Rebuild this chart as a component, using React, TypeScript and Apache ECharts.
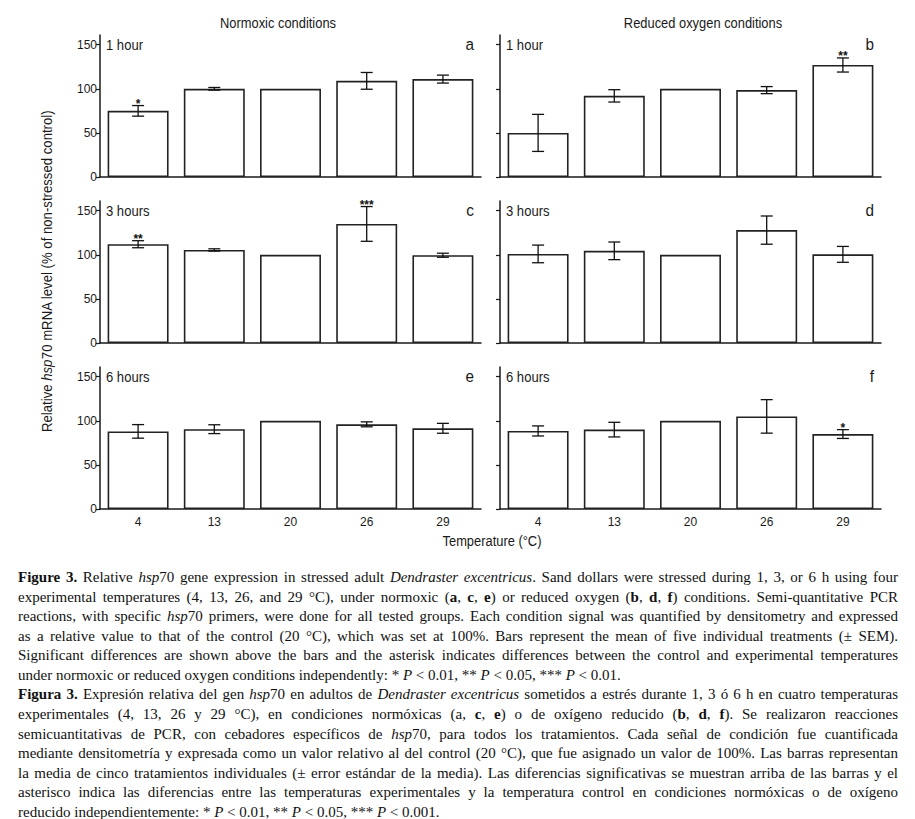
import React, { useEffect, useRef } from 'react';
import * as echarts from 'echarts';

// ---------- data ----------
const temperatures = ['4', '13', '20', '26', '29'];
const yTickValues = [0, 50, 100, 150];
const columnTitles = ['Normoxic conditions', 'Reduced oxygen conditions'];
const panelLetters = ['a', 'b', 'c', 'd', 'e', 'f'];
const panelTimes = ['1 hour', '1 hour', '3 hours', '3 hours', '6 hours', '6 hours'];

const meanA = [75, 100, 100, 109, 111];
const semA = [6, 1.5, 0, 9.5, 4.5];
const sigA = ['*', '', '', '', ''];
const meanB = [50, 92, 100, 98.5, 127];
const semB = [21, 7, 0, 4, 8];
const sigB = ['', '', '', '', '**'];
const meanC = [112, 105.5, 100, 135, 99.5];
const semC = [4, 1.3, 0, 19.7, 2.3];
const sigC = ['**', '', '', '***', ''];
const meanD = [101, 104.5, 100, 128, 100.5];
const semD = [10, 10, 0, 16, 9];
const sigD = ['', '', '', '', ''];
const meanE = [88, 90.5, 100, 96, 91.5];
const semE = [7.7, 5, 0, 2.8, 5.6];
const sigE = ['', '', '', '', ''];
const meanF = [88.5, 90, 100, 105, 85];
const semF = [5.7, 8.3, 0, 19, 5];
const sigF = ['', '', '', '', '*'];

const yTitleParts = ['Relative ', 'hsp', '70 mRNA level (% of non-stressed control)'];
const xTitle = 'Temperature (°C)';

// ^ toggles bold, ~ toggles italic; last line of each paragraph is not justified
const captionEnglish = [
  '^Figure 3.^ Relative ~hsp~70 gene expression in stressed adult ~Dendraster excentricus~. Sand dollars were stressed during 1, 3, or 6 h using four',
  'experimental temperatures (4, 13, 26, and 29 °C), under normoxic (^a^, ^c^, ^e^) or reduced oxygen (^b^, ^d^, ^f^) conditions. Semi-quantitative PCR',
  'reactions, with specific ~hsp~70 primers, were done for all tested groups. Each condition signal was quantified by densitometry and expressed',
  'as a relative value to that of the control (20 °C), which was set at 100%. Bars represent the mean of five individual treatments (± SEM).',
  'Significant differences are shown above the bars and the asterisk indicates differences between the control and experimental temperatures',
  'under normoxic or reduced oxygen conditions independently: * ~P~ < 0.01, ** ~P~ < 0.05, *** ~P~ < 0.01.',
];
const captionSpanish = [
  '^Figura 3.^ Expresión relativa del gen ~hsp~70 en adultos de ~Dendraster excentricus~ sometidos a estrés durante 1, 3 ó 6 h en cuatro temperaturas',
  'experimentales (4, 13, 26 y 29 °C), en condiciones normóxicas (a, ^c^, ^e^) o de oxígeno reducido (^b^, ^d^, ^f^). Se realizaron reacciones',
  'semicuantitativas de PCR, con cebadores específicos de ~hsp~70, para todos los tratamientos. Cada señal de condición fue cuantificada',
  'mediante densitometría y expresada como un valor relativo al del control (20 °C), que fue asignado un valor de 100%. Las barras representan',
  'la media de cinco tratamientos individuales (± error estándar de la media). Las diferencias significativas se muestran arriba de las barras y el',
  'asterisco indica las diferencias entre las temperaturas experimentales y la temperatura control en condiciones normóxicas o de oxígeno',
  'reducido independientemente: * ~P~ < 0.01, ** ~P~ < 0.05, *** ~P~ < 0.001.',
];

const panelMeans = [meanA, meanB, meanC, meanD, meanE, meanF];
const panelSems = [semA, semB, semC, semD, semE, semF];
const panelSigs = [sigA, sigB, sigC, sigD, sigE, sigF];

// ---------- layout ----------
const W = 915;
const H = 819;
const colLeft = [100, 500];
const gridW = 381;
const rowTop = [35, 201, 367];
const gridH = 142;
const yMax = 161;
const SANS = '"Liberation Sans", Arial, sans-serif';
const SERIF = '"Liberation Serif", "Times New Roman", serif';
const INK = '#1a1a1a';

type Seg = { text: string; bold: boolean; italic: boolean };

function parseLine(line: string): Seg[][] {
  const segs: Seg[] = [];
  let bold = false;
  let italic = false;
  let cur = '';
  const flush = () => {
    if (cur) segs.push({ text: cur, bold, italic });
    cur = '';
  };
  for (const ch of line) {
    if (ch === '^') { flush(); bold = !bold; }
    else if (ch === '~') { flush(); italic = !italic; }
    else cur += ch;
  }
  flush();
  const words: Seg[][] = [];
  let word: Seg[] = [];
  for (const s of segs) {
    const parts = s.text.split(' ');
    parts.forEach((p, i) => {
      if (i > 0) {
        if (word.length) words.push(word);
        word = [];
      }
      if (p) word.push({ text: p, bold: s.bold, italic: s.italic });
    });
  }
  if (word.length) words.push(word);
  return words;
}

export default function App() {
  const ref = useRef<HTMLDivElement>(null);

  useEffect(() => {
    if (!ref.current) return;
    const canvas = document.createElement('canvas');
    const ctx = canvas.getContext('2d')!;
    const fontStr = (size: number, family: string, bold = false, italic = false) =>
      `${italic ? 'italic ' : ''}${bold ? 'bold ' : ''}${size}px ${family}`;
    const measure = (t: string, f: string) => {
      ctx.font = f;
      return ctx.measureText(t).width;
    };
    const probe = 'abcdefghijklmnop 0123456789';
    const narrowOk =
      Math.abs(measure(probe, '20px monospace') - measure(probe, '20px "Liberation Sans Narrow", monospace')) > 0.5;
    const tickFamily = narrowOk ? '"Liberation Sans Narrow", "Liberation Sans", sans-serif' : SANS;
    const tickSize = narrowOk ? 13.5 : 12;

    const chart = echarts.init(ref.current, undefined, { renderer: 'svg' });

    const grids: any[] = [];
    const xAxes: any[] = [];
    const yAxes: any[] = [];
    const series: any[] = [];
    const graphics: any[] = [];

    for (let p = 0; p < 6; p++) {
      const row = Math.floor(p / 2);
      const col = p % 2;
      grids.push({ left: colLeft[col], top: rowTop[row], width: gridW, height: gridH });
      xAxes.push({
        type: 'category',
        gridIndex: p,
        data: temperatures,
        axisLine: { lineStyle: { color: INK, width: 1.5 } },
        axisTick: { alignWithLabel: true, length: 4, lineStyle: { color: INK, width: 1.2 } },
        axisLabel: {
          show: row === 2,
          color: INK,
          fontSize: tickSize,
          fontFamily: tickFamily,
          margin: 7,
        },
        splitLine: { show: false },
      });
      yAxes.push({
        type: 'value',
        gridIndex: p,
        min: 0,
        max: yMax,
        axisLine: { show: true, lineStyle: { color: INK, width: 1.5 } },
        axisTick: { show: true, length: 4, customValues: yTickValues, lineStyle: { color: INK, width: 1.2 } },
        axisLabel: {
          show: col === 0,
          customValues: yTickValues,
          color: INK,
          fontSize: tickSize,
          fontFamily: tickFamily,
          margin: 3,
        },
        splitLine: { show: false },
      });
      const means = panelMeans[p];
      const sems = panelSems[p];
      const sigs = panelSigs[p];
      series.push({
        type: 'bar',
        xAxisIndex: p,
        yAxisIndex: p,
        data: means,
        barCategoryGap: '20%',
        silent: true,
        itemStyle: { color: '#ffffff', borderColor: '#222', borderWidth: 1.6 },
      });
      series.push({
        type: 'custom',
        xAxisIndex: p,
        yAxisIndex: p,
        silent: true,
        z: 5,
        data: means.map((m, j) => [j, m, sems[j]]),
        encode: { x: 0, y: 1 },
        renderItem: (params: any, api: any) => {
          const j = api.value(0);
          const m = api.value(1);
          const e = api.value(2);
          const sig = sigs[params.dataIndex];
          const children: any[] = [];
          const top = api.coord([j, m + e]);
          if (e > 0) {
            const bot = api.coord([j, m - e]);
            const cap = 6;
            const st = { stroke: '#111', lineWidth: 1.3 };
            children.push({ type: 'line', shape: { x1: top[0], y1: top[1], x2: bot[0], y2: bot[1] }, style: st });
            children.push({ type: 'line', shape: { x1: top[0] - cap, y1: top[1], x2: top[0] + cap, y2: top[1] }, style: st });
            children.push({ type: 'line', shape: { x1: bot[0] - cap, y1: bot[1], x2: bot[0] + cap, y2: bot[1] }, style: st });
          }
          if (sig) {
            children.push({
              type: 'text',
              x: top[0],
              y: top[1] + 4,
              style: {
                text: sig,
                textAlign: 'center',
                textVerticalAlign: 'bottom',
                fontSize: 12,
                fontWeight: 'bold',
                fontFamily: SANS,
                fill: '#111',
              },
            });
          }
          return { type: 'group', children };
        },
      });

      graphics.push({
        type: 'text',
        x: colLeft[col] + 6,
        y: rowTop[row] + 10,
        scaleX: 0.87,
        style: { text: panelTimes[p], fontSize: 15, fontFamily: SANS, fill: INK, textAlign: 'left', textVerticalAlign: 'middle' },
      });
      graphics.push({
        type: 'text',
        x: colLeft[col] + gridW - 7,
        y: rowTop[row] + 9,
        scaleX: 0.9,
        style: { text: panelLetters[p], fontSize: 17, fontFamily: SANS, fill: INK, textAlign: 'right', textVerticalAlign: 'middle' },
      });
    }

    columnTitles.forEach((t, c) => {
      graphics.push({
        type: 'text',
        x: colLeft[c] + (c === 0 ? 178 : 203),
        y: 23,
        scaleX: 0.86,
        style: { text: t, fontSize: 15, fontFamily: SANS, fill: INK, textAlign: 'center', textVerticalAlign: 'middle' },
      });
    });

    const yTitleW =
      measure(yTitleParts[0], fontStr(15, SANS)) +
      measure(yTitleParts[1], fontStr(15, SANS, false, true)) +
      measure(yTitleParts[2], fontStr(15, SANS));
    graphics.push({
      type: 'text',
      x: 47,
      y: 271,
      rotation: Math.PI / 2,
      scaleX: 322 / yTitleW,
      style: {
        text: `{n|${yTitleParts[0]}}{i|${yTitleParts[1]}}{n|${yTitleParts[2]}}`,
        rich: {
          n: { fontSize: 15, fontFamily: SANS, fill: INK },
          i: { fontSize: 15, fontFamily: SANS, fontStyle: 'italic', fill: INK },
        },
        textAlign: 'center',
        textVerticalAlign: 'middle',
      },
    });

    graphics.push({
      type: 'text',
      x: 492,
      y: 541,
      scaleX: 0.86,
      style: { text: xTitle, fontSize: 15, fontFamily: SANS, fill: INK, textAlign: 'center', textVerticalAlign: 'middle' },
    });

    // caption (justified)
    const capSize = 15;
    const capLeft = 18;
    const capRight = 898;
    const capW = capRight - capLeft;
    const lines = [...captionEnglish, ...captionSpanish];
    const lastIdx = new Set([captionEnglish.length - 1, lines.length - 1]);
    const parsed = lines.map((l) => parseLine(l));
    const spaceW = measure(' ', fontStr(capSize, SERIF));
    const wordWidths = parsed.map((words) =>
      words.map((w) => w.reduce((acc, s) => acc + measure(s.text, fontStr(capSize, SERIF, s.bold, s.italic)), 0))
    );
    let scale = 1;
    parsed.forEach((words, i) => {
      if (lastIdx.has(i)) return;
      const nat = wordWidths[i].reduce((a, b) => a + b, 0) + spaceW * (words.length - 1);
      scale = Math.min(scale, capW / nat);
    });
    parsed.forEach((words, i) => {
      const y = 577 + i * 19.58;
      const ww = wordWidths[i];
      const sumW = ww.reduce((a, b) => a + b, 0) * scale;
      const gap = lastIdx.has(i) ? spaceW * scale : (capW - sumW) / (words.length - 1);
      let x = capLeft;
      words.forEach((w, k) => {
        let sx = x;
        w.forEach((s) => {
          const f = fontStr(capSize, SERIF, s.bold, s.italic);
          graphics.push({
            type: 'text',
            x: sx,
            y,
            scaleX: scale,
            silent: true,
            style: {
              text: s.text,
              fontSize: capSize,
              fontFamily: SERIF,
              fontWeight: s.bold ? 'bold' : 'normal',
              fontStyle: s.italic ? 'italic' : 'normal',
              fill: '#111',
              textAlign: 'left',
              textVerticalAlign: 'middle',
            },
          });
          sx += measure(s.text, f) * scale;
        });
        x += ww[k] * scale + gap;
      });
    });

    chart.setOption({
      animation: false,
      backgroundColor: '#ffffff',
      grid: grids,
      xAxis: xAxes,
      yAxis: yAxes,
      series,
      graphic: graphics,
    });

    return () => {
      chart.dispose();
    };
  }, []);

  return (
    <div
      ref={ref}
      style={{ position: 'absolute', left: 0, top: 0, width: W, height: H, background: '#fff' }}
    />
  );
}
